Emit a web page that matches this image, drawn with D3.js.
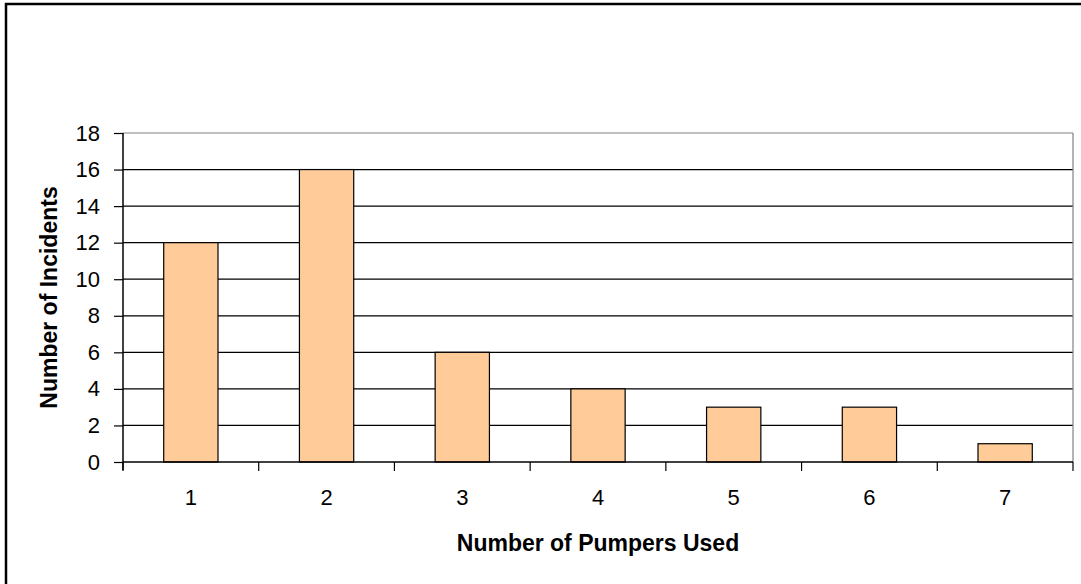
<!DOCTYPE html>
<html><head><meta charset="utf-8">
<script src="https://cdn.jsdelivr.net/npm/d3@7"></script>
<style>body{margin:0;background:#fff;overflow:hidden}svg{display:block}</style>
</head><body>
<script>
const categories = ["1","2","3","4","5","6","7"];
const values = [12,16,6,4,3,3,1];
const yTicks = [0,2,4,6,8,10,12,14,16,18];
const xTitle = "Number of Pumpers Used";
const yTitle = "Number of Incidents";

const W = 1081, H = 584;
const L = 123, R = 1073, T = 133, B = 462;
const svg = d3.select("body").append("svg").attr("width", W).attr("height", H);

svg.append("rect").attr("x", 6).attr("y", 4).attr("width", 1200).attr("height", 700)
  .attr("fill", "#fff").attr("stroke", "#000").attr("stroke-width", 2.5);

const x = d3.scaleBand().domain(categories).range([L, R]).paddingInner(0.6).paddingOuter(0.3);
const xb = d3.scaleBand().domain(categories).range([L, R]);
const y = d3.scaleLinear().domain([0, 18]).range([B, T]);

const font = "Arial, 'Liberation Sans', sans-serif";

// gridlines
svg.append("g").selectAll("line").data(yTicks.filter(d => d > 0)).join("line")
  .attr("x1", L).attr("x2", R).attr("y1", d => y(d)).attr("y2", d => y(d))
  .attr("stroke", (d) => d === 18 ? "#808080" : "#000").attr("stroke-width", 1.2);
// right border of plot
svg.append("line").attr("x1", R).attr("x2", R).attr("y1", T).attr("y2", B)
  .attr("stroke", "#808080").attr("stroke-width", 1.2);

// bars
svg.append("g").selectAll("rect").data(values).join("rect")
  .attr("x", (d, i) => x(categories[i])).attr("width", x.bandwidth())
  .attr("y", d => y(d)).attr("height", d => B - y(d))
  .attr("fill", "#FFCC99").attr("stroke", "#000").attr("stroke-width", 1.2);

// y axis
const ya = svg.append("g").attr("transform", `translate(${L},0)`)
  .call(d3.axisLeft(y).tickValues(yTicks).tickSize(9).tickPadding(14).tickFormat(d3.format("d")));
ya.select(".domain").attr("stroke", "#000").attr("stroke-width", 1.5).attr("d", `M0,${T}V${B + 8}`);
ya.selectAll(".tick line").attr("stroke", "#000").attr("stroke-width", 1.2);
ya.selectAll("text").attr("font-family", font).attr("font-size", 22).attr("fill", "#000");

// x axis
const xa = svg.append("g").attr("transform", `translate(0,${B})`)
  .call(d3.axisBottom(xb).tickSize(0).tickPadding(27));
xa.select(".domain").attr("stroke", "#000").attr("stroke-width", 1.5).attr("d", `M${L},0H${R}`);
xa.selectAll("text").attr("font-family", font).attr("font-size", 22).attr("fill", "#000");
svg.append("g").selectAll("line").data(d3.range(categories.length + 1)).join("line")
  .attr("x1", i => L + i * xb.step()).attr("x2", i => L + i * xb.step())
  .attr("y1", B).attr("y2", B + 9).attr("stroke", "#000").attr("stroke-width", 1.2);

svg.append("text").attr("x", (L + R) / 2).attr("y", 551).attr("text-anchor", "middle")
  .attr("font-family", font).attr("font-size", 23).attr("font-weight", "bold").text(xTitle);
svg.append("text").attr("transform", `translate(57,${(T + B) / 2}) rotate(-90)`).attr("text-anchor", "middle")
  .attr("font-family", font).attr("font-size", 23).attr("font-weight", "bold").text(yTitle);
</script>
</body></html>
